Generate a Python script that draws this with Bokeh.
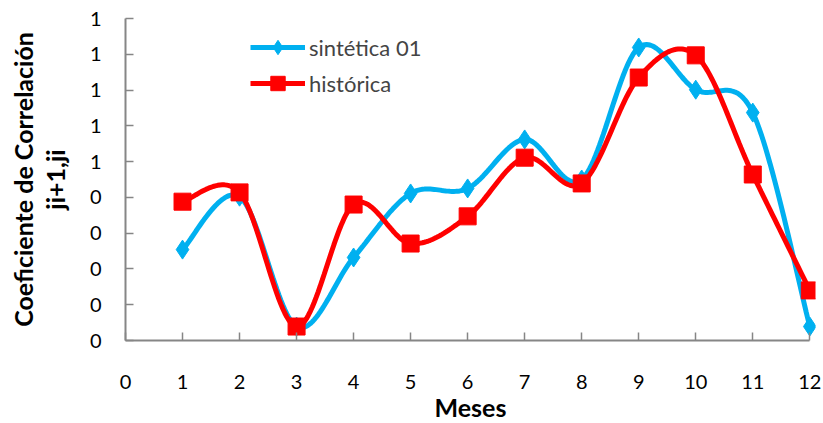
import numpy as np
from bokeh.plotting import figure
from bokeh.models import Range1d, FixedTicker, Legend, LegendItem
from bokeh.embed import file_html
from bokeh.resources import INLINE

months = [1, 2, 3, 4, 5, 6, 7, 8, 9, 10, 11, 12]
sintetica = [0.254, 0.402, 0.039, 0.232, 0.411, 0.425, 0.562, 0.450, 0.819, 0.701, 0.637, 0.039]
historica = [0.388, 0.414, 0.039, 0.380, 0.271, 0.347, 0.511, 0.439, 0.735, 0.797, 0.464, 0.140]
x_ticks = [0, 1, 2, 3, 4, 5, 6, 7, 8, 9, 10, 11, 12]
y_ticks = [0.0, 0.1, 0.2, 0.3, 0.4, 0.5, 0.6, 0.7, 0.8, 0.9]
y_tick_labels = ["0", "0", "0", "0", "0", "1", "1", "1", "1", "1"]

BLUE = "#00B0F0"
RED = "#FF0000"
FONT = "Lato"
AXIS_COLOR = "#868686"


def smooth(xs, ys, n=30):
    xs = np.asarray(xs, float)
    ys = np.asarray(ys, float)
    px = np.concatenate([[xs[0]], xs, [xs[-1]]])
    py = np.concatenate([[ys[0]], ys, [ys[-1]]])
    ox, oy = [], []
    t = np.linspace(0, 1, n)
    for i in range(1, len(px) - 2):
        p0 = np.array([px[i], py[i]])
        p3 = np.array([px[i + 1], py[i + 1]])
        c1 = p0 + (np.array([px[i + 1], py[i + 1]]) - np.array([px[i - 1], py[i - 1]])) / 6
        c2 = p3 - (np.array([px[i + 2], py[i + 2]]) - np.array([px[i], py[i]])) / 6
        b = ((1 - t) ** 3)[:, None] * p0 + (3 * (1 - t) ** 2 * t)[:, None] * c1 \
            + (3 * (1 - t) * t ** 2)[:, None] * c2 + (t ** 3)[:, None] * p3
        ox.extend(b[:, 0])
        oy.extend(b[:, 1])
    return ox, oy


p = figure(frame_width=690, frame_height=322, output_backend="svg", toolbar_location=None,
           x_range=Range1d(0, 12.1), y_range=Range1d(0, 0.9),
           min_border_left=125, min_border_right=8, min_border_top=18, min_border_bottom=10)
p.outline_line_color = None
p.grid.visible = False
p.background_fill_color = "white"
p.border_fill_color = "white"

sx, sy = smooth(months, sintetica)
hx, hy = smooth(months, historica)
bl = p.line(sx, sy, line_color=BLUE, line_width=5)
bm = p.scatter(months, sintetica, marker="diamond", size=19, fill_color=BLUE, line_color=BLUE)
rl = p.line(hx, hy, line_color=RED, line_width=5)
rm = p.scatter(months, historica, marker="square", size=17, fill_color=RED, line_color=RED)

for ax in (p.xaxis[0], p.yaxis[0]):
    ax.axis_line_color = AXIS_COLOR
    ax.axis_line_width = 2
    ax.major_tick_line_color = AXIS_COLOR
    ax.major_tick_line_width = 1.5
    ax.major_tick_in = 8
    ax.major_tick_out = 0
    ax.minor_tick_line_color = None
    ax.major_label_text_font = FONT
    ax.major_label_text_font_size = "20px"
    ax.major_label_text_color = "black"
    ax.axis_label_text_font = FONT
    ax.axis_label_text_font_style = "bold"
    ax.axis_label_text_font_size = "25px"
    ax.axis_label_text_color = "black"

p.xaxis[0].ticker = FixedTicker(ticks=x_ticks)
p.xaxis[0].bounds = (0, 12)
p.xaxis[0].major_label_standoff = 34
p.xaxis[0].axis_label = "Meses"
p.xaxis[0].axis_label_standoff = 0

p.yaxis[0].ticker = FixedTicker(ticks=y_ticks)
p.yaxis[0].major_label_overrides = {t: l for t, l in zip(y_ticks, y_tick_labels)}
p.yaxis[0].major_label_standoff = 24
p.yaxis[0].axis_label = "Coeficiente de Correlación\nji+1,ji"
p.yaxis[0].axis_label_standoff = 17
p.yaxis[0].axis_label_text_line_height = 1.05

legend = Legend(items=[LegendItem(label="sintética 01", renderers=[bl, bm]),
                       LegendItem(label="histórica", renderers=[rl, rm])],
                border_line_color=None, background_fill_alpha=0,
                label_text_font=FONT, label_text_font_size="22px",
                glyph_width=55, glyph_height=36, label_standoff=4, spacing=0,
                margin=0, padding=0)
legend.location = (125, 322 - 11 - 72)
p.add_layout(legend)

open("out.html", "w").write(file_html(p, INLINE))
